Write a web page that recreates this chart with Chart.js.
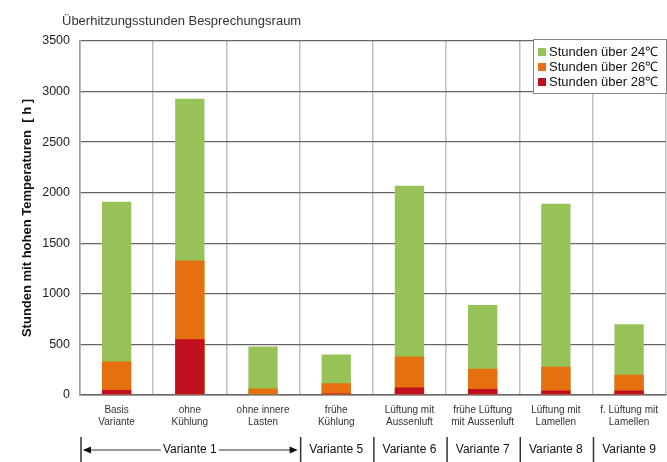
<!DOCTYPE html>
<html>
<head>
<meta charset="utf-8">
<script src="https://cdn.jsdelivr.net/npm/chart.js@4/dist/chart.umd.min.js"></script>
<style>
  body { margin: 0; background: #fff; overflow: hidden; }
</style>
</head>
<body>
<canvas id="chart" width="667" height="462"></canvas>
<script>
// categories (two-line labels)
const categories = [
  ['Basis', 'Variante'],
  ['ohne', 'Kühlung'],
  ['ohne innere', 'Lasten'],
  ['frühe', 'Kühlung'],
  ['Lüftung mit', 'Aussenluft'],
  ['frühe Lüftung', 'mit Aussenluft'],
  ['Lüftung mit', 'Lamellen'],
  ['f. Lüftung mit', 'Lamellen']
];

// hours above each temperature (each bar drawn from 0, overlapping)
const over24 = [1910, 2930, 480, 400, 2070, 890, 1890, 700];
const over26 = [330, 1330, 65, 115, 380, 260, 280, 200];
const over28 = [50, 550, 0, 15, 75, 60, 45, 45];

const seriesLabels = ['Stunden über 24℃', 'Stunden über 26℃', 'Stunden über 28℃'];
const seriesColors = ['#97c257', '#e6700f', '#c00f1f'];

// second row of x labels
const groupLabels = ['Variante 1', 'Variante 5', 'Variante 6', 'Variante 7', 'Variante 8', 'Variante 9'];
const groupFirst = [0, 3, 4, 5, 6, 7];
const groupLast = [2, 3, 4, 5, 6, 7];

const yTicks = [0, 500, 1000, 1500, 2000, 2500, 3000, 3500];

const FONT = '"Liberation Sans", Arial, sans-serif';

const extras = {
  id: 'extras',
  afterDraw(chart) {
    const ctx = chart.ctx;
    const x = chart.scales.x;
    ctx.save();

    // title
    ctx.fillStyle = '#333';
    ctx.font = '13px ' + FONT;
    ctx.textAlign = 'left';
    ctx.textBaseline = 'middle';
    ctx.fillText('Überhitzungsstunden Besprechungsraum', 62, 21);

    // legend box
    const lx = 533, ly = 39, lw = 133, lh = 54;
    ctx.fillStyle = '#fff';
    ctx.fillRect(lx, ly, lw, lh);
    ctx.strokeStyle = '#8a8484';
    ctx.lineWidth = 1;
    ctx.strokeRect(lx + 0.5, ly + 0.5, lw, lh);
    ctx.font = '13px ' + FONT;
    chart.data.datasets.forEach((ds, i) => {
      const cy = ly + 13 + i * 15;
      ctx.fillStyle = ds.backgroundColor;
      ctx.fillRect(lx + 5, cy - 4, 8, 8);
      ctx.fillStyle = '#111';
      ctx.fillText(ds.label, lx + 16, cy);
    });

    // group row
    const half = (x.getPixelForValue(1) - x.getPixelForValue(0)) / 2;
    const gy = 450;
    ctx.font = '12px ' + FONT;
    ctx.strokeStyle = '#333';
    ctx.fillStyle = '#111';
    groupLabels.forEach((lab, i) => {
      const x0 = x.getPixelForValue(groupFirst[i]) - half;
      const x1 = x.getPixelForValue(groupLast[i]) + half;
      ctx.lineWidth = 1.5;
      ctx.beginPath();
      ctx.moveTo(x0 + 1, 437);
      ctx.lineTo(x0 + 1, 462);
      ctx.stroke();
      const cx = (x0 + x1) / 2;
      ctx.textAlign = 'center';
      ctx.fillText(lab, cx, gy);
      if (groupLast[i] > groupFirst[i]) {
        const tw = ctx.measureText(lab).width / 2 + 2;
        ctx.lineWidth = 1.2;
        ctx.beginPath();
        ctx.moveTo(x0 + 4, gy);
        ctx.lineTo(cx - tw, gy);
        ctx.moveTo(cx + tw, gy);
        ctx.lineTo(x1 - 4, gy);
        ctx.stroke();
        ctx.beginPath();
        ctx.moveTo(x0 + 3, gy);
        ctx.lineTo(x0 + 11, gy - 3.5);
        ctx.lineTo(x0 + 11, gy + 3.5);
        ctx.closePath();
        ctx.moveTo(x1 - 2, gy);
        ctx.lineTo(x1 - 10, gy - 3.5);
        ctx.lineTo(x1 - 10, gy + 3.5);
        ctx.closePath();
        ctx.fill();
      }
    });
    ctx.restore();
  }
};

new Chart(document.getElementById('chart'), {
  type: 'bar',
  data: {
    labels: categories,
    datasets: [
      { label: seriesLabels[0], data: over24, backgroundColor: seriesColors[0], order: 3 },
      { label: seriesLabels[1], data: over26, backgroundColor: seriesColors[1], order: 2 },
      { label: seriesLabels[2], data: over28, backgroundColor: seriesColors[2], order: 1 }
    ]
  },
  options: {
    responsive: false,
    animation: false,
    layout: { padding: { top: 41, right: 0, left: 0, bottom: 0 } },
    barPercentage: 0.4,
    categoryPercentage: 1,
    plugins: {
      legend: { display: false },
      tooltip: { enabled: false }
    },
    scales: {
      x: {
        stacked: true,
        grid: { offset: true, color: '#c3bebe', lineWidth: 1.5, drawTicks: false },
        border: { display: true, color: '#6b6464', width: 1.5 },
        ticks: {
          color: '#333',
          font: { family: FONT, size: 10 },
          padding: 9,
          maxRotation: 0,
          autoSkip: false
        },
        afterFit(scale) { scale.height = 67; }
      },
      y: {
        stacked: false,
        min: 0,
        max: 3500,
        afterBuildTicks(scale) { scale.ticks = yTicks.map(v => ({ value: v })); },
        grid: { color: '#6b6464', lineWidth: 1.3, drawTicks: false },
        border: { display: true, color: '#a09a9a', width: 1.5 },
        ticks: {
          color: '#222',
          font: { family: FONT, size: 12.5 },
          padding: 10,
          callback: v => String(v)
        },
        title: {
          display: true,
          text: 'Stunden mit hohen Temperaturen  [ h ]',
          color: '#111',
          font: { family: FONT, size: 13, weight: 'bold' },
          padding: { top: 20, bottom: 0 }
        },
        afterFit(scale) { scale.width = 80; }
      }
    }
  },
  plugins: [extras]
});
</script>
</body>
</html>
